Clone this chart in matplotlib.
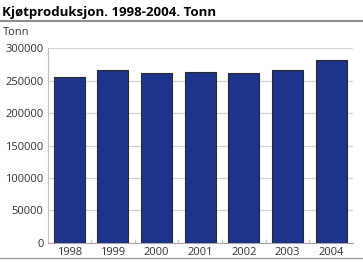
import matplotlib
matplotlib.use("Agg")
import matplotlib.pyplot as plt
from matplotlib.ticker import FixedLocator
from matplotlib.lines import Line2D

years = ["1998", "1999", "2000", "2001", "2002", "2003", "2004"]
values = [255300, 266200, 262000, 262700, 261500, 266000, 282000]
yticks = [0, 50000, 100000, 150000, 200000, 250000, 300000]

plt.rcParams["font.family"] = ["Open Sans", "DejaVu Sans"]

fig = plt.figure(figsize=(3.63, 2.67), dpi=100)
ax = fig.add_axes([0.131, 0.091, 0.841, 0.728])

x = list(range(len(years)))
ax.bar(x, values, width=0.71, color="#1d348c", edgecolor="#2a2a2a", linewidth=0.8, zorder=3)

ax.set_xlim(-0.5, len(years) - 0.5)
ax.set_ylim(0, 300000)
ax.set_yticks(yticks)
ax.set_yticklabels([str(v) for v in yticks], fontsize=8, color="#333333")
ax.set_xticks(x)
ax.set_xticklabels(years, fontsize=8, color="#333333")
ax.tick_params(axis="both", length=0, pad=3)
ax.xaxis.set_minor_locator(FixedLocator([i + 0.5 for i in range(len(years) - 1)]))
ax.tick_params(axis="x", which="minor", direction="in", length=3, color="#c8c8c8", width=0.8)

ax.grid(axis="y", color="#d4d4d4", linewidth=0.9, zorder=0)
for s in ["top", "right"]:
    ax.spines[s].set_visible(False)
ax.spines["left"].set_color("#c0c0c0")
ax.spines["bottom"].set_color("#a8a8a8")
ax.spines["left"].set_linewidth(0.8)
ax.spines["bottom"].set_linewidth(0.8)

fig.text(0.006, 0.953, "Kjøtproduksjon. 1998-2004. Tonn", fontsize=9.5, fontweight="bold",
         ha="left", va="center", color="#000000")
fig.add_artist(Line2D([0, 1], [0.921, 0.921], transform=fig.transFigure, color="#8c8c8c", linewidth=1.5))
fig.text(0.008, 0.878, "Tonn", fontsize=8, ha="left", va="center", color="#333333")
fig.add_artist(Line2D([0, 1], [0.034, 0.034], transform=fig.transFigure, color="#a0a0a0", linewidth=1.0))

fig.savefig("out.png", dpi=100)
